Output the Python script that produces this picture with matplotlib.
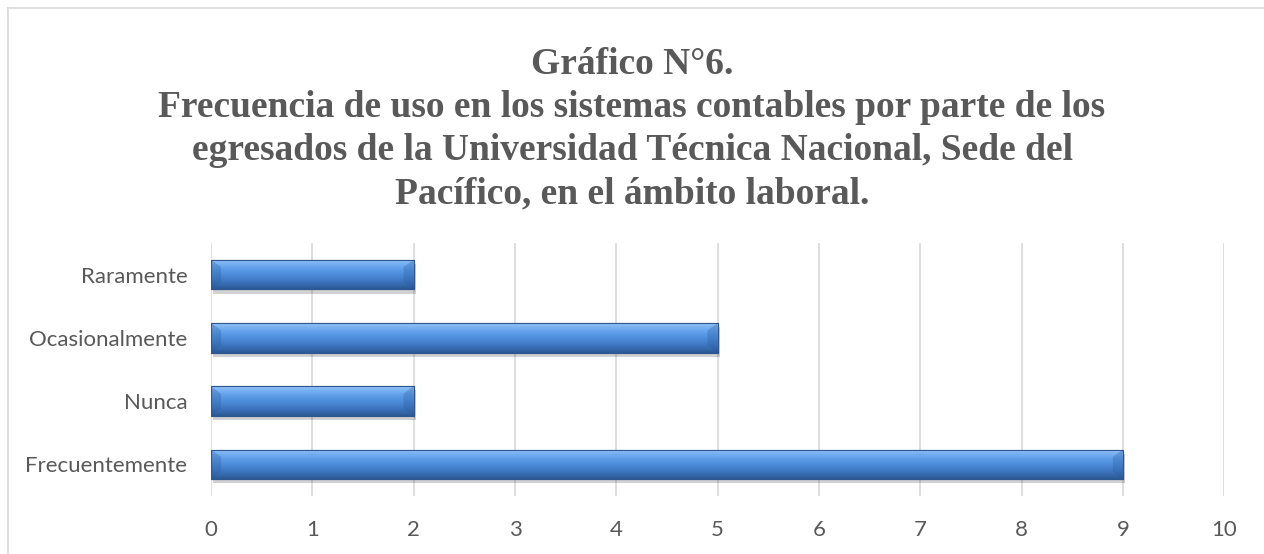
import matplotlib
matplotlib.use("Agg")
import matplotlib.pyplot as plt
import matplotlib.patheffects as pe
from matplotlib.colors import LinearSegmentedColormap
from matplotlib.lines import Line2D
import numpy as np

categorias = ["Frecuentemente", "Nunca", "Ocasionalmente", "Raramente"]
valores = [9, 2, 5, 2]
ticks_x = [0, 1, 2, 3, 4, 5, 6, 7, 8, 9, 10]
titulo = ("Gráfico N°6.\n"
          "Frecuencia de uso en los sistemas contables por parte de los\n"
          "egresados de la Universidad Técnica Nacional, Sede del\n"
          "Pacífico, en el ámbito laboral.")

gris = "#595959"

fig = plt.figure(figsize=(12.64, 5.54), dpi=100)
ax = fig.add_axes([0.1669, 0.1047, 0.8017, 0.4567])

# degradado vertical (abajo oscuro, arriba claro)
cmap = LinearSegmentedColormap.from_list(
    "azul", ["#2b5894", "#3a70b8", "#4784d2", "#5596e2", "#6eaaf0", "#93c4f7"])
grad = np.linspace(0, 1, 64).reshape(-1, 1)

y = np.arange(len(categorias))
bars = ax.barh(y, valores, height=0.47, color="#4a86d0", edgecolor="#2f5a90",
               linewidth=0.8, zorder=3)
for b in bars:
    b.set_path_effects([pe.SimplePatchShadow(offset=(1.5, -3), shadow_rgbFace="#000000", alpha=0.18),
                        pe.Normal()])
    x0, y0 = b.get_x(), b.get_y()
    x1, y1 = x0 + b.get_width(), y0 + b.get_height()
    im = ax.imshow(grad, cmap=cmap, origin="lower", aspect="auto",
                   extent=[x0, x1, y0, y1], zorder=4, interpolation="bicubic")
    im.set_clip_path(b)
    # bisel en los extremos
    h = b.get_height()
    dx = 0.1
    for xa, xb in [(x0, x0 + dx), (x1, x1 - dx)]:
        ax.fill([xa, xb, xb, xa], [y0, y0 + h * 0.25, y1 - h * 0.25, y1],
                color="#2a5a98", alpha=0.3, lw=0, zorder=5)
    ax.add_patch(plt.Rectangle((x0, y0), b.get_width(), h, fill=False,
                               edgecolor="#2c5790", lw=0.8, zorder=6))

ax.set_xlim(0, 10)
ax.set_ylim(-0.5, 3.5)
ax.set_xticks(ticks_x)
ax.set_yticks(y)
ax.set_yticklabels(categorias)
ax.grid(axis="x", color="#d9d9d9", linewidth=1.2, zorder=0)
ax.set_axisbelow(True)
for s in ax.spines.values():
    s.set_visible(False)
ax.tick_params(length=0, colors=gris, labelsize=16)
ax.tick_params(axis="y", pad=17)
ax.tick_params(axis="x", pad=17)
for t in ax.get_xticklabels() + ax.get_yticklabels():
    t.set_fontfamily(["Lato", "DejaVu Sans"])
    t.set_color(gris)

fig.text(0.5, 1 - 47 / 554, titulo, ha="center", va="top", fontsize=27,
         fontweight="bold", color=gris, family=["Liberation Serif", "DejaVu Serif"],
         linespacing=1.3)

# borde del gráfico
fig.add_artist(Line2D([8 / 1264, 1.0], [1 - 8 / 554] * 2, transform=fig.transFigure,
                      color="#d9d9d9", lw=1.2))
fig.add_artist(Line2D([8 / 1264] * 2, [0, 1 - 8 / 554], transform=fig.transFigure,
                      color="#d9d9d9", lw=1.2))

fig.savefig("out.png", dpi=100, facecolor="white")
